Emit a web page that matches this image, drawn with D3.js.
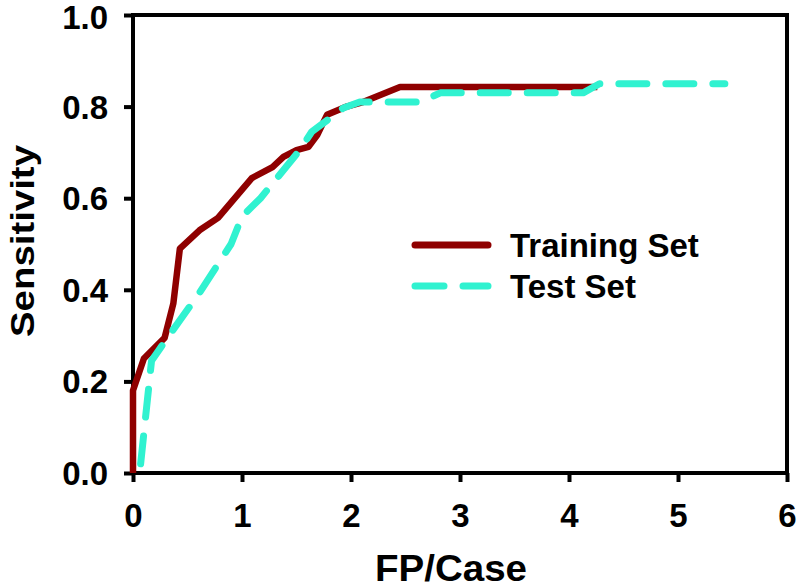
<!DOCTYPE html>
<html>
<head>
<meta charset="utf-8">
<script src="https://cdn.jsdelivr.net/npm/d3@7"></script>
<style>
  body { margin: 0; background: #fff; }
  text { font-family: Arial, "Liberation Sans", sans-serif; font-weight: bold; fill: #000; }
</style>
</head>
<body>
<svg id="chart" width="798" height="588"></svg>
<script>
// datos
const trainFP = [0, 0, 0.1, 0.29, 0.37, 0.43, 0.61, 0.78, 1.09, 1.28, 1.38, 1.5, 1.61, 1.69, 1.78, 1.96, 2.11, 2.45, 4.26];
const trainSens = [0, 0.18, 0.25, 0.295, 0.37, 0.49, 0.53, 0.557, 0.644, 0.668, 0.69, 0.705, 0.712, 0.738, 0.782, 0.80, 0.81, 0.843, 0.843];
const testFP = [0.07, 0.17, 0.3, 0.6, 0.9, 1.0, 1.17, 1.53, 1.64, 1.78, 1.93, 2.08, 2.63, 2.82, 4.13, 4.28, 5.43];
const testSens = [0.02, 0.245, 0.29, 0.39, 0.50, 0.56, 0.60, 0.705, 0.745, 0.77, 0.797, 0.81, 0.81, 0.83, 0.83, 0.85, 0.85];
const xTicks = [0, 1, 2, 3, 4, 5, 6];
const yTicks = [0, 0.2, 0.4, 0.6, 0.8, 1.0];
const seriesNames = ['Training Set', 'Test Set'];

const svg = d3.select('#chart');
const margin = { top: 15, right: 11, bottom: 115, left: 133 };
const width = 798 - margin.left - margin.right;
const height = 588 - margin.top - margin.bottom;

const g = svg.append('g').attr('transform', `translate(${margin.left},${margin.top})`);

const x = d3.scaleLinear().domain([0, 6]).range([0, width]);
const y = d3.scaleLinear().domain([0, 1]).range([height, 0]);

// marco superior y derecho
g.append('path')
  .attr('d', `M0,0H${width}V${height}`)
  .attr('fill', 'none')
  .attr('stroke', '#000')
  .attr('stroke-width', 4);

// ejes
const xAxis = g.append('g')
  .attr('transform', `translate(0,${height})`)
  .call(d3.axisBottom(x).tickValues(xTicks).tickFormat(d3.format('d')).tickSize(9).tickPadding(22));
const yAxis = g.append('g')
  .call(d3.axisLeft(y).tickValues(yTicks).tickFormat(d3.format('.1f')).tickSize(9).tickPadding(16));

[xAxis, yAxis].forEach(ax => {
  ax.select('.domain').attr('stroke-width', 4).attr('d', ax === xAxis ? `M-2,0H${width + 2}` : `M0,${height + 2}V-2`);
  ax.selectAll('.tick line').attr('stroke-width', 4);
  ax.selectAll('.tick text').style('font-size', '33px').style('font-family', 'Arial, "Liberation Sans", sans-serif').style('font-weight', 'bold').attr('fill', '#000');
});
yAxis.selectAll('.tick text').attr('dy', '0.35em');
// la etiqueta 1.0 queda pegada al borde superior
yAxis.selectAll('.tick text').filter(d => d === 1).attr('dy', '0.42em');

// titulos
svg.append('text')
  .attr('x', 451).attr('y', 581)
  .attr('text-anchor', 'middle')
  .attr('textLength', 152)
  .attr('lengthAdjust', 'spacingAndGlyphs')
  .style('font-size', '37px')
  .text('FP/Case');
svg.append('text')
  .attr('transform', 'translate(34,241) rotate(-90)')
  .attr('text-anchor', 'middle')
  .attr('textLength', 192)
  .attr('lengthAdjust', 'spacingAndGlyphs')
  .style('font-size', '34px')
  .text('Sensitivity');

const line = d3.line().x(d => x(d[0])).y(d => y(d[1]));
const trainData = d3.zip(trainFP, trainSens);
const testData = d3.zip(testFP, testSens);

g.append('path')
  .datum(trainData)
  .attr('d', line)
  .attr('fill', 'none')
  .attr('stroke', '#8f0000')
  .attr('stroke-width', 6.5)
  .attr('stroke-linejoin', 'round');

g.append('path')
  .datum(testData)
  .attr('d', line)
  .attr('fill', 'none')
  .attr('stroke', '#30f2d0')
  .attr('stroke-width', 7)
  .attr('stroke-linecap', 'round')
  .attr('stroke-linejoin', 'round')
  .attr('stroke-dasharray', '28,19');

// leyenda
const legend = svg.append('g');
const legendY = [245, 286];
seriesNames.forEach((name, i) => {
  legend.append('line')
    .attr('x1', 415).attr('x2', 488)
    .attr('y1', legendY[i]).attr('y2', legendY[i])
    .attr('stroke', i === 0 ? '#8f0000' : '#30f2d0')
    .attr('stroke-width', 7)
    .attr('stroke-linecap', 'round')
    .attr('stroke-dasharray', i === 0 ? null : '29,19');
  legend.append('text')
    .attr('x', 510).attr('y', legendY[i] + 12)
    .style('font-size', '33px')
    .text(name);
});
</script>
</body>
</html>
